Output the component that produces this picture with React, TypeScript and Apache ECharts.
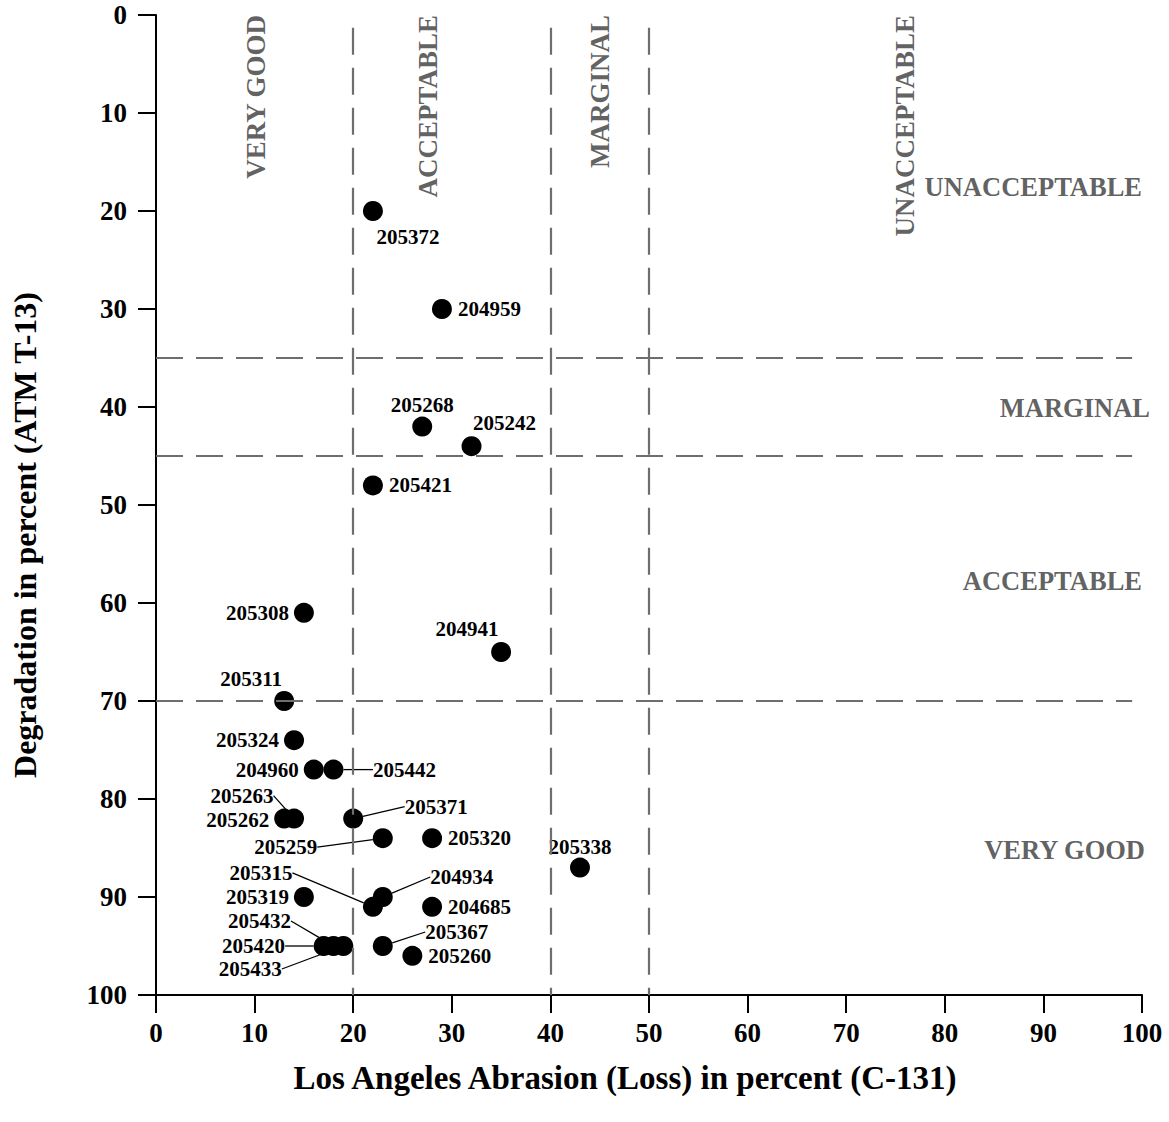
import React, { useEffect, useRef } from "react";
import * as echarts from "echarts";

// ---- data ----
const sampleIds = [
  "205372", "204959", "205268", "205242", "205421", "205308", "204941", "205311",
  "205324", "204960", "205442", "205263", "205262", "205371", "205259", "205320",
  "205338", "205315", "204934", "205319", "204685", "205420", "205432", "205433",
  "205367", "205260",
];
const abrasionLoss = [22, 29, 27, 32, 22, 15, 35, 13, 14, 16, 18, 14, 13, 20, 23, 28, 43, 22, 23, 15, 28, 17, 18, 19, 23, 26];
const degradation = [20, 30, 42, 44, 48, 61, 65, 70, 74, 77, 77, 82, 82, 82, 84, 84, 87, 91, 90, 90, 91, 95, 95, 95, 95, 96];

const xTicks = [0, 10, 20, 30, 40, 50, 60, 70, 80, 90, 100];
const yTicks = [0, 10, 20, 30, 40, 50, 60, 70, 80, 90, 100];

// class limits
const abrasionLimits = [20, 40, 50];
const degradationLimits = [35, 45, 70];

const topZoneNames = ["VERY GOOD", "ACCEPTABLE", "MARGINAL", "UNACCEPTABLE"];
const topZoneX = [10.1, 27.6, 45, 76];
const sideZoneNames = ["UNACCEPTABLE", "MARGINAL", "ACCEPTABLE", "VERY GOOD"];
const sideZoneY = [17.6, 40.1, 57.8, 85.2];

// label placement (style only): side or [dx, dy] offset in px, leader line flag
const labelPlacement: Array<[string, number, number, boolean]> = [
  ["c", 35, 26, false], // 205372
  ["r", 0, 0, false], // 204959
  ["t", 0, -22, false], // 205268
  ["c", 33, -23, false], // 205242
  ["r", 0, 0, false], // 205421
  ["l", 0, 0, false], // 205308
  ["c", -34, -23, false], // 204941
  ["c", -33, -22, false], // 205311
  ["l", 0, 0, false], // 205324
  ["l", 0, 0, false], // 204960
  ["c", 71, 0, true], // 205442
  ["c", -52, -23, true], // 205263
  ["l", 0, 1, false], // 205262
  ["c", 83, -12, true], // 205371
  ["c", -97, 9, true], // 205259
  ["r", 0, 0, false], // 205320
  ["t", 0, -21, false], // 205338
  ["c", -112, -34, true], // 205315
  ["c", 79, -20, true], // 204934
  ["l", 0, 0, false], // 205319
  ["r", 0, 0, false], // 204685
  ["c", -70, 0, true], // 205420
  ["c", -74, -25, true], // 205432
  ["c", -93, 23, true], // 205433
  ["c", 74, -14, true], // 205367
  ["r", 0, 0, false], // 205260
];

const FONT = "'Liberation Serif', 'Times New Roman', serif";
const ZONE_COLOR = "#383838";
const DASH_COLOR = "#6e6e6e";

export default function App() {
  const ref = useRef<HTMLDivElement>(null);

  useEffect(() => {
    if (!ref.current) return;
    const chart = echarts.init(ref.current, undefined, { renderer: "svg" });

    const points = sampleIds.map((id, i) => ({
      name: id,
      value: [abrasionLoss[i], degradation[i]],
      labelLine: { show: labelPlacement[i][3] },
    }));

    const markLines: any[] = [];
    abrasionLimits.forEach((x) => {
      markLines.push([{ coord: [x, 1.3] }, { coord: [x, 100] }]);
    });
    degradationLimits.forEach((y) => {
      markLines.push([{ coord: [0, y] }, { coord: [99, y] }]);
    });

    const topZones = topZoneNames.map((n, i) => ({
      value: [topZoneX[i], 0],
      label: {
        show: true,
        formatter: n,
        position: "inside",
        rotate: 90,
        align: "right",
        verticalAlign: "middle",
        fontSize: 27,
      },
    }));
    const sideZones = sideZoneNames.map((n, i) => ({
      value: [100, sideZoneY[i]],
      label: {
        show: true,
        formatter: n,
        position: "inside",
        align: "right",
        verticalAlign: "middle",
        fontSize: 26.5,
        offset: [n === "MARGINAL" ? 8 : n === "VERY GOOD" ? 3 : 0, 0],
      },
    }));

    const option: any = {
      animation: false,
      backgroundColor: "#ffffff",
      grid: { left: 156, right: 27, top: 15, bottom: 127, containLabel: false },
      xAxis: {
        type: "value",
        min: 0,
        max: 100,
        interval: 10,
        axisLine: { show: true, onZero: false, lineStyle: { color: "#000", width: 2 } },
        axisTick: { show: true, inside: false, length: 18, lineStyle: { color: "#000", width: 2 } },
        axisLabel: {
          color: "#000",
          fontFamily: FONT,
          fontWeight: "bold",
          fontSize: 27,
          margin: 24,
          formatter: (v: number) => (xTicks.includes(v) ? String(v) : ""),
        },
        splitLine: { show: false },
      },
      yAxis: {
        type: "value",
        inverse: true,
        min: 0,
        max: 100,
        interval: 10,
        axisLine: { show: true, onZero: false, lineStyle: { color: "#000", width: 2 } },
        axisTick: { show: true, inside: false, length: 18, lineStyle: { color: "#000", width: 2 } },
        axisLabel: {
          color: "#000",
          fontFamily: FONT,
          fontWeight: "bold",
          fontSize: 27,
          margin: 29,
          formatter: (v: number) => (yTicks.includes(v) ? String(v) : ""),
        },
        splitLine: { show: false },
      },
      graphic: [
        {
          type: "text",
          x: 625,
          y: 1078,
          style: {
            text: "Los Angeles Abrasion (Loss) in percent (C-131)",
            font: `bold 33px ${FONT}`,
            fill: "#000",
            textAlign: "center",
            textVerticalAlign: "middle",
          },
        },
        {
          type: "text",
          x: 25,
          y: 535,
          rotation: Math.PI / 2,
          style: {
            text: "Degradation in percent (ATM T-13)",
            font: `bold 32px ${FONT}`,
            fill: "#000",
            textAlign: "center",
            textVerticalAlign: "middle",
          },
        },
      ],
      series: [
        {
          type: "scatter",
          name: "limits",
          silent: true,
          clip: false,
          symbolSize: 0,
          data: [...topZones, ...sideZones],
          label: {
            show: true,
            color: ZONE_COLOR,
            fontFamily: FONT,
            fontWeight: "bold",
            fontSize: 26,
          },
          markLine: {
            silent: true,
            symbol: "none",
            label: { show: false },
            lineStyle: { color: DASH_COLOR, width: 2.2, type: [27, 13] },
            data: markLines,
          },
          z: 1,
        },
        {
          type: "scatter",
          name: "samples",
          clip: false,
          symbol: "circle",
          symbolSize: 20,
          itemStyle: { color: "#000", opacity: 1 },
          data: points,
          label: {
            show: true,
            position: "inside",
            formatter: (p: any) => p.name,
            color: "#000",
            fontFamily: FONT,
            fontWeight: "bold",
            fontSize: 21,
            lineHeight: 20,
          },
          labelLine: {
            show: false,
            lineStyle: { color: "#000", width: 1.3 },
          },
          labelLayout: (p: any) => {
            const pl = labelPlacement[p.dataIndex];
            const cx = p.rect.x + p.rect.width / 2;
            const cy = p.rect.y + p.rect.height / 2;
            if (pl[0] === "l") return { x: cx - 15, y: cy + pl[2], align: "right", verticalAlign: "middle" };
            if (pl[0] === "r") return { x: cx + 16, y: cy + pl[2], align: "left", verticalAlign: "middle" };
            return { x: cx + pl[1], y: cy + pl[2], align: "center", verticalAlign: "middle" };
          },
          z: 3,
        },
      ],
    };

    chart.setOption(option);
    return () => chart.dispose();
  }, []);

  return (
    <div
      ref={ref}
      style={{ position: "fixed", left: 0, top: 0, width: 1169, height: 1122, background: "#fff" }}
    />
  );
}
